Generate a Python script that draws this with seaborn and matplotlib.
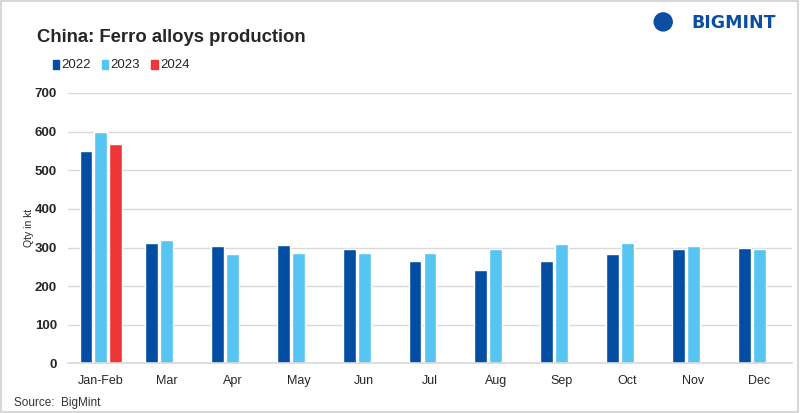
import numpy as np
import pandas as pd
import matplotlib
matplotlib.use("Agg")
import matplotlib.pyplot as plt
import seaborn as sns
from matplotlib.patches import Rectangle, Ellipse

# data (qty in kt)
months = ["Jan-Feb", "Mar", "Apr", "May", "Jun", "Jul", "Aug", "Sep", "Oct", "Nov", "Dec"]
years = ["2022", "2023", "2024"]
prod_2022 = [550, 311, 304, 306, 296, 265, 241, 265, 283, 296, 298]
prod_2023 = [600, 319, 283, 285, 285, 285, 296, 309, 311, 304, 296]
prod_2024 = [569]

colors = {"2022": "#034EA2", "2023": "#56C5F1", "2024": "#EE3636"}

rows = []
for m, v in zip(months, prod_2022):
    rows.append((m, "2022", v))
for m, v in zip(months, prod_2023):
    rows.append((m, "2023", v))
for m, v in zip(months, prod_2024):
    rows.append((m, "2024", v))
df = pd.DataFrame(rows, columns=["month", "year", "qty"])

sns.set_theme(style="white")
plt.rcParams["font.family"] = ["Liberation Sans", "DejaVu Sans"]

fig = plt.figure(figsize=(8, 4.13), dpi=100)
ax = fig.add_axes([0.085, 0.12, 0.905, 0.655])

sns.barplot(data=df, x="month", y="qty", hue="year", order=months,
            hue_order=years, palette=colors, width=0.68, gap=0.14,
            saturation=1, dodge=True, legend=False, ax=ax)

ax.set_ylim(0, 700)
ax.set_xlim(-0.5, 10.5)
ax.set_yticks(range(0, 701, 100))
ax.yaxis.grid(True, color="#D9D9D9", linewidth=1)
ax.set_axisbelow(True)
for s in ["top", "right", "left"]:
    ax.spines[s].set_visible(False)
ax.spines["bottom"].set_color("#D9D9D9")
ax.spines["bottom"].set_linewidth(1.2)
ax.tick_params(axis="y", length=0, labelsize=9.5, pad=8)
ax.tick_params(axis="x", length=0, labelsize=9, pad=8)
for t in ax.get_yticklabels():
    t.set_fontweight("bold")
ax.set_xlabel("")
ax.set_ylabel("Qty in kt", fontsize=7.5)
ax.yaxis.set_label_coords(-0.047, 0.5)

# title, legend, source
fig.text(0.046, 0.908, "China: Ferro alloys production", fontsize=13.3,
         fontweight="bold", va="center")
lx = 0.066
for y in years:
    fig.patches.append(Rectangle((lx, 0.832), 0.008, 0.022, transform=fig.transFigure,
                                 color=colors[y]))
    fig.text(lx + 0.011, 0.843, y, fontsize=9.5, va="center")
    lx += 0.0615
fig.text(0.018, 0.024, "Source:  BigMint", fontsize=8.5, color="#333333", va="center")

# logo
fig.text(0.864, 0.945, "BIGMINT", fontsize=12.5, fontweight="bold",
         family="DejaVu Sans", color="#0B4DA2", va="center", ha="left")
fig.patches.append(Ellipse((0.829, 0.947), 0.0225, 0.0436, transform=fig.transFigure,
                           color="#0B4DA2"))

# outer border
fig.patches.append(Rectangle((0.001, 0.002), 0.997, 0.996, transform=fig.transFigure,
                             fill=False, edgecolor="#D0D0D0", linewidth=1.2))

fig.savefig("out.png", dpi=100)
